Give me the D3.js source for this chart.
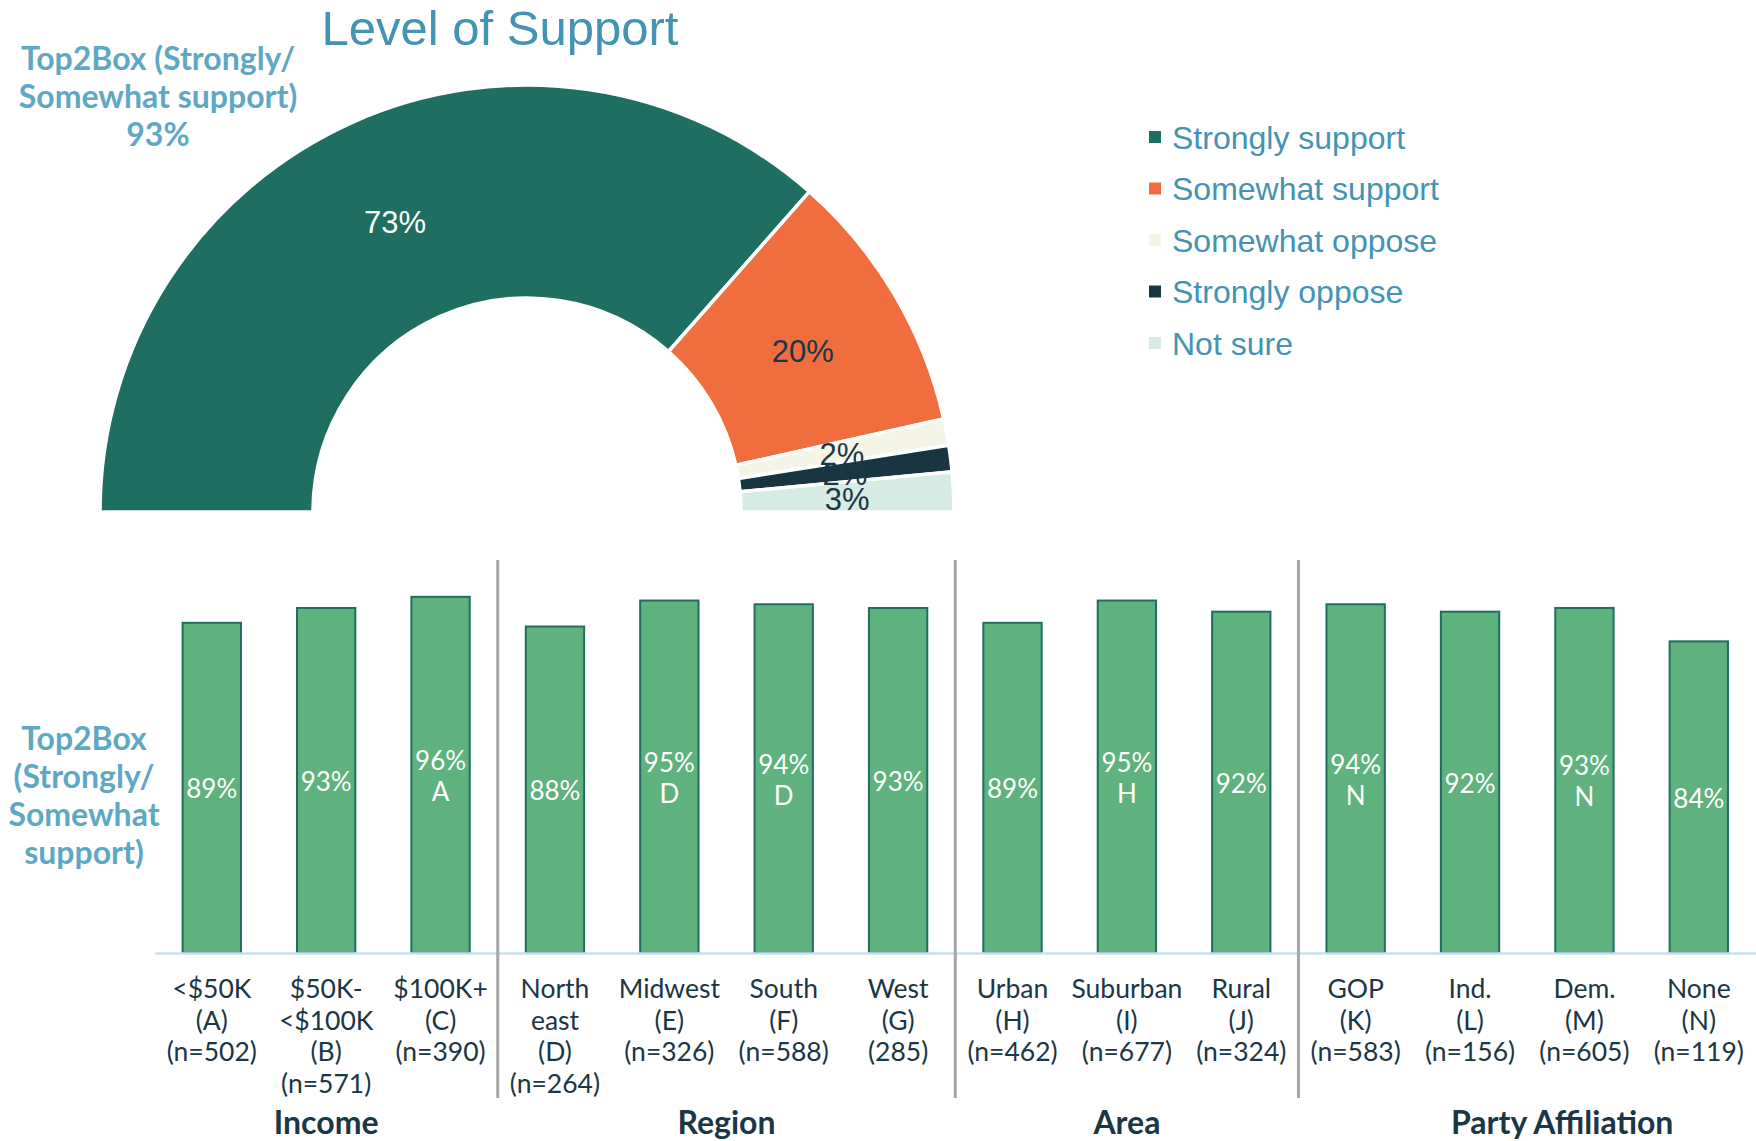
<!DOCTYPE html>
<html>
<head>
<meta charset="utf-8">
<script src="https://cdn.jsdelivr.net/npm/d3@7"></script>
<style>
  html, body { margin: 0; padding: 0; background: #ffffff; }
  svg { display: block; }
</style>
</head>
<body>
<svg id="chart" width="1756" height="1141"></svg>
<script>
// Overall level of support (half donut)
const supportLabels = ["Strongly support", "Somewhat support", "Somewhat oppose", "Strongly oppose", "Not sure"];
const supportValues = [73, 20, 2, 2, 3];
const supportColors = ["#1e6f62", "#f06e3d", "#f4f4e7", "#183642", "#d5ebe4"];
const supportLabelColors = ["#ffffff", "#1b3645", "#1b3645", "#1b3645", "#1b3645"];
const top2BoxTotal = 93;

// Top2Box by subgroup (bar chart)
const barValues = [89, 93, 96, 88, 95, 94, 93, 89, 95, 92, 94, 92, 93, 84];
const sigLetters = ["", "", "A", "", "D", "D", "", "", "H", "", "N", "", "N", ""];
const tickLabels = [
  ["<$50K", "(A)", "(n=502)"],
  ["$50K-", "<$100K", "(B)", "(n=571)"],
  ["$100K+", "(C)", "(n=390)"],
  ["North", "east", "(D)", "(n=264)"],
  ["Midwest", "(E)", "(n=326)"],
  ["South", "(F)", "(n=588)"],
  ["West", "(G)", "(285)"],
  ["Urban", "(H)", "(n=462)"],
  ["Suburban", "(I)", "(n=677)"],
  ["Rural", "(J)", "(n=324)"],
  ["GOP", "(K)", "(n=583)"],
  ["Ind.", "(L)", "(n=156)"],
  ["Dem.", "(M)", "(n=605)"],
  ["None", "(N)", "(n=119)"]
];
const groupNames = ["Income", "Region", "Area", "Party Affiliation"];
const groupSizes = [3, 4, 3, 4];

const svg = d3.select("#chart");
const titleBlue = "#4393b3";
const softBlue = "#5ea8c4";
const navy = "#1b3645";

// ---------- Title ----------
svg.append("text")
  .attr("x", 500).attr("y", 45)
  .attr("text-anchor", "middle")
  .style("font-family", "'Liberation Sans', Arial, sans-serif")
  .style("font-size", "49px")
  .style("fill", titleBlue)
  .text("Level of Support");

// ---------- Top2Box summary ----------
const summary = svg.append("text")
  .attr("text-anchor", "middle")
  .style("font-family", "Lato, sans-serif")
  .style("font-weight", "700")
  .style("font-size", "32px")
  .style("fill", softBlue);
["Top2Box (Strongly/", "Somewhat support)", top2BoxTotal + "%"].forEach((t, i) => {
  summary.append("tspan").attr("x", 158).attr("y", 70 + i * 38).text(t);
});

// ---------- Half donut ----------
const cx = 527, cy = 512, outerR = 427, innerR = 214;
const pie = d3.pie().sort(null).value(d => d)
  .startAngle(-Math.PI / 2).endAngle(Math.PI / 2);
const arc = d3.arc().innerRadius(innerR).outerRadius(outerR);
const arcs = pie(supportValues);
const donut = svg.append("g").attr("transform", `translate(${cx},${cy})`);
donut.selectAll("path").data(arcs).join("path")
  .attr("d", arc)
  .attr("fill", (d, i) => supportColors[i])
  .attr("stroke", "#ffffff")
  .attr("stroke-width", 3.5);
donut.selectAll("text").data(arcs).join("text")
  .attr("transform", d => `translate(${arc.centroid(d)})`)
  .attr("text-anchor", "middle")
  .attr("dy", "0.42em")
  .style("font-family", "'Liberation Sans', Arial, sans-serif")
  .style("font-size", "31px")
  .style("fill", (d, i) => supportLabelColors[i])
  .text(d => d.data + "%");

// ---------- Legend ----------
const legend = svg.append("g").attr("transform", "translate(1149,137)");
const legendRow = legend.selectAll("g").data(supportLabels).join("g")
  .attr("transform", (d, i) => `translate(0,${i * 51.5})`);
legendRow.append("rect")
  .attr("x", 0).attr("y", -6).attr("width", 12).attr("height", 12)
  .attr("fill", (d, i) => supportColors[i]);
legendRow.append("text")
  .attr("x", 23).attr("dy", "0.36em")
  .style("font-family", "'Liberation Sans', Arial, sans-serif")
  .style("font-size", "32px")
  .style("fill", titleBlue)
  .text(d => d);

// ---------- Bar chart ----------
const baseY = 953;
const x = d3.scaleBand()
  .domain(d3.range(barValues.length))
  .range([154.6, 1756])
  .paddingInner(0.49).paddingOuter(0.245);
const y = d3.scaleLinear().domain([0, 100]).range([baseY, 582]);

const bars = svg.append("g");
bars.selectAll("rect").data(barValues).join("rect")
  .attr("x", (d, i) => x(i))
  .attr("y", d => y(d))
  .attr("width", x.bandwidth())
  .attr("height", d => baseY - y(d))
  .attr("fill", "#5fb27e")
  .attr("stroke", "#1e6f62")
  .attr("stroke-width", 2);

// value labels (with significance letters) centred in each bar
const valueLabels = bars.selectAll("text").data(barValues).join("text")
  .attr("text-anchor", "middle")
  .style("font-family", "Lato, sans-serif")
  .style("font-size", "26px")
  .style("fill", "#ffffff");
valueLabels.each(function (d, i) {
  const lines = sigLetters[i] ? [d + "%", sigLetters[i]] : [d + "%"];
  const mid = (y(d) + baseY) / 2;
  const lh = 31;
  lines.forEach((t, k) => {
    d3.select(this).append("tspan")
      .attr("x", x(i) + x.bandwidth() / 2)
      .attr("y", mid + (k - (lines.length - 1) / 2) * lh)
      .attr("dy", "0.4em")
      .text(t);
  });
});

// category axis
const xAxis = svg.append("g")
  .attr("transform", `translate(0,${baseY})`)
  .call(d3.axisBottom(x).tickSize(0).tickFormat(""));
xAxis.select(".domain")
  .attr("stroke", "#c9e0ea")
  .attr("stroke-width", 2.5);
xAxis.selectAll(".tick text").remove();
xAxis.selectAll(".tick").each(function (d) {
  const t = d3.select(this).append("text")
    .attr("text-anchor", "middle")
    .style("font-family", "Lato, sans-serif")
    .style("font-size", "26.5px")
    .style("fill", navy);
  tickLabels[d].forEach((line, k) => {
    t.append("tspan").attr("x", 0).attr("y", 45 + k * 31.7).text(line);
  });
});

// group separators and group names
const step = x.step();
let start = 0;
groupSizes.forEach((n, g) => {
  const left = x(start) - x.paddingInner() * step / 2;
  const right = left + n * step;
  if (g > 0) {
    svg.append("line")
      .attr("x1", left).attr("x2", left)
      .attr("y1", 560).attr("y2", 1098)
      .attr("stroke", "#a6a6a6").attr("stroke-width", 3);
  }
  const shift = g === groupSizes.length - 1 ? 35 : 0;
  svg.append("text")
    .attr("x", (left + right) / 2 + shift).attr("y", 1134)
    .attr("text-anchor", "middle")
    .style("font-family", "Lato, sans-serif")
    .style("font-weight", "700")
    .style("font-size", "32px")
    .style("fill", navy)
    .text(groupNames[g]);
  start += n;
});

// vertical axis title
const yTitle = svg.append("text")
  .attr("text-anchor", "middle")
  .style("font-family", "Lato, sans-serif")
  .style("font-weight", "700")
  .style("font-size", "32px")
  .style("fill", softBlue);
["Top2Box", "(Strongly/", "Somewhat", "support)"].forEach((t, i) => {
  yTitle.append("tspan").attr("x", 84).attr("y", 750 + i * 38).text(t);
});
</script>
</body>
</html>
